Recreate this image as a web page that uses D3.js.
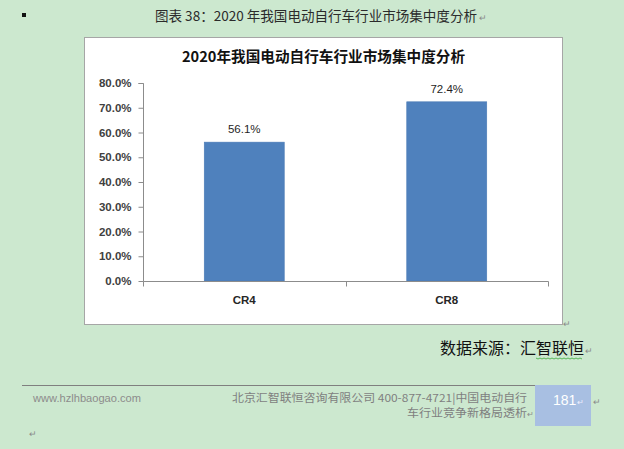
<!DOCTYPE html>
<html><head><meta charset="utf-8">
<script src="https://cdn.jsdelivr.net/npm/d3@7"></script>
<style>
html,body{margin:0;padding:0;background:#cce8cf;}
svg{display:block;}
</style></head>
<body>
<svg id="c" width="624" height="449"></svg>
<script>
const categories = ["CR4", "CR8"];
const values = [0.561, 0.724];
const yTicks = [0, 0.1, 0.2, 0.3, 0.4, 0.5, 0.6, 0.7, 0.8];
const caption = "图表 38：2020 年我国电动自行车行业市场集中度分析";
const chartTitle = "2020年我国电动自行车行业市场集中度分析";
const source = "数据来源：汇智联恒";

const svg = d3.select("#c");
const cjk = "'Noto Sans CJK SC', 'Noto Sans', sans-serif";
const lat = "'Liberation Sans', Arial, sans-serif";

svg.append("rect").attr("width",624).attr("height",449).attr("fill","#cce8cf");

// bullet
svg.append("rect").attr("x",22).attr("y",13).attr("width",4).attr("height",4).attr("fill","#111");

// caption
svg.append("text").attr("x",155).attr("y",20.5).attr("font-family",cjk).attr("font-size",13.5)
  .attr("fill","#2b2b2b").attr("textLength",322).attr("lengthAdjust","spacingAndGlyphs").text(caption);
svg.append("text").attr("x",479).attr("y",21).attr("font-family",cjk).attr("font-size",9).attr("fill","#8a8a8a").text("↵");

// chart frame
svg.append("rect").attr("x",84.5).attr("y",37.5).attr("width",478).attr("height",287)
  .attr("fill","#fff").attr("stroke","#a6a6a6").attr("stroke-width",1);
svg.append("text").attr("x",563).attr("y",327).attr("font-family",cjk).attr("font-size",9).attr("fill","#8a8a8a").text("↵");

svg.append("text").attr("x",323.5).attr("y",62).attr("text-anchor","middle").attr("font-family",cjk)
  .attr("font-size",14.5).attr("font-weight","bold").attr("fill","#111")
  .attr("textLength",283).attr("lengthAdjust","spacingAndGlyphs").text(chartTitle);

const x = d3.scaleBand().domain(categories).range([143,548]).paddingInner(0.605).paddingOuter(0.3025);
const y = d3.scaleLinear().domain([0,0.8]).range([281,83]);

// bars
svg.append("g").selectAll("rect").data(values).join("rect")
  .attr("x",(d,i)=>x(categories[i])).attr("width",x.bandwidth())
  .attr("y",d=>y(d)).attr("height",d=>y(0)-y(d))
  .attr("fill","#4f81bd").attr("stroke","#4a7ab5").attr("stroke-width",0.6);

// data labels
svg.append("g").selectAll("text").data(values).join("text")
  .attr("x",(d,i)=>x(categories[i])+x.bandwidth()/2).attr("y",d=>y(d)-9)
  .attr("text-anchor","middle").attr("font-family",lat).attr("font-size",11.5).attr("fill","#1f1f1f")
  .text(d=>d3.format(".1%")(d));

// y axis
const ya = svg.append("g").attr("transform","translate(143.5,0)")
  .call(d3.axisLeft(y).tickValues(yTicks).tickFormat(d3.format(".1%")).tickSize(5).tickPadding(7));
ya.select(".domain").attr("stroke","#8c8c8c").attr("d","M-5,"+(y(0.8)+0.5)+"H0V"+(y(0)+0.5));
ya.selectAll(".tick line").attr("stroke","#8c8c8c");
ya.selectAll(".tick text").attr("font-family",lat).attr("font-size",11.5).attr("font-weight","bold").attr("fill","#404040");

// x axis
const xa = svg.append("g").attr("transform","translate(0,281.5)")
  .call(d3.axisBottom(x).tickSize(0).tickPadding(14));
xa.select(".domain").attr("stroke","#8c8c8c").attr("d","M143.5,0H548.5");
xa.selectAll(".tick text").attr("font-family",lat).attr("font-size",11.5).attr("font-weight","bold").attr("fill","#262626");
// boundaries between categories from band scale
const edges = [x.range()[0]].concat(categories.slice(1).map(c=>x(c)-x.step()*x.paddingInner()/2)).concat([x.range()[1]]);
xa.selectAll("line.edge").data(edges).join("line").attr("class","edge")
  .attr("x1",d=>Math.round(d)+0.5).attr("x2",d=>Math.round(d)+0.5).attr("y1",0).attr("y2",5).attr("stroke","#8c8c8c");

// source
svg.append("text").attr("x",440).attr("y",354).attr("font-family",cjk).attr("font-size",15.5)
  .attr("fill","#111").attr("textLength",144).attr("lengthAdjust","spacingAndGlyphs").text(source);
svg.append("text").attr("x",585).attr("y",354).attr("font-family",cjk).attr("font-size",9).attr("fill","#8a8a8a").text("↵");
// squiggle under 智联恒
svg.append("path").attr("fill","none").attr("stroke","#3aa83a").attr("stroke-width",0.8)
  .attr("d", d3.range(536,584,2).map((v,i)=>(i?"L":"M")+v+","+(358+(i%2?1:0))).join(""));

// footer
svg.append("line").attr("x1",22).attr("x2",535).attr("y1",385.5).attr("y2",385.5).attr("stroke","#7f7f7f");
svg.append("rect").attr("x",535).attr("y",385).attr("width",56).attr("height",41).attr("fill","#a8bfe2");
svg.append("text").attr("x",33).attr("y",402).attr("font-family",lat).attr("font-size",11).attr("fill","#8c8c8c")
  .attr("textLength",108).attr("lengthAdjust","spacingAndGlyphs").text("www.hzlhbaogao.com");
svg.append("text").attr("x",232).attr("y",401.5).attr("font-family",cjk).attr("font-size",11)
  .attr("fill","#7f7f7f").attr("textLength",295).attr("lengthAdjust","spacingAndGlyphs")
  .text("北京汇智联恒咨询有限公司  400-877-4721|中国电动自行");
svg.append("text").attr("x",527).attr("y",417).attr("text-anchor","end").attr("font-family",cjk).attr("font-size",11)
  .attr("fill","#7f7f7f").attr("textLength",120).attr("lengthAdjust","spacingAndGlyphs").text("车行业竞争新格局透析");
svg.append("text").attr("x",527).attr("y",417).attr("font-family",cjk).attr("font-size",8).attr("fill","#8a8a8a").text("↵");
svg.append("text").attr("x",553).attr("y",405).attr("font-family",lat).attr("font-size",14).attr("fill","#ffffff").text("181");
svg.append("text").attr("x",577).attr("y",405).attr("font-family",cjk).attr("font-size",8).attr("fill","#eef").text("↵");
svg.append("text").attr("x",593).attr("y",405).attr("font-family",cjk).attr("font-size",9).attr("fill","#8a8a8a").text("↵");
svg.append("text").attr("x",29).attr("y",437).attr("font-family",cjk).attr("font-size",9).attr("fill","#8a8a8a").text("↵");
</script>
</body></html>
